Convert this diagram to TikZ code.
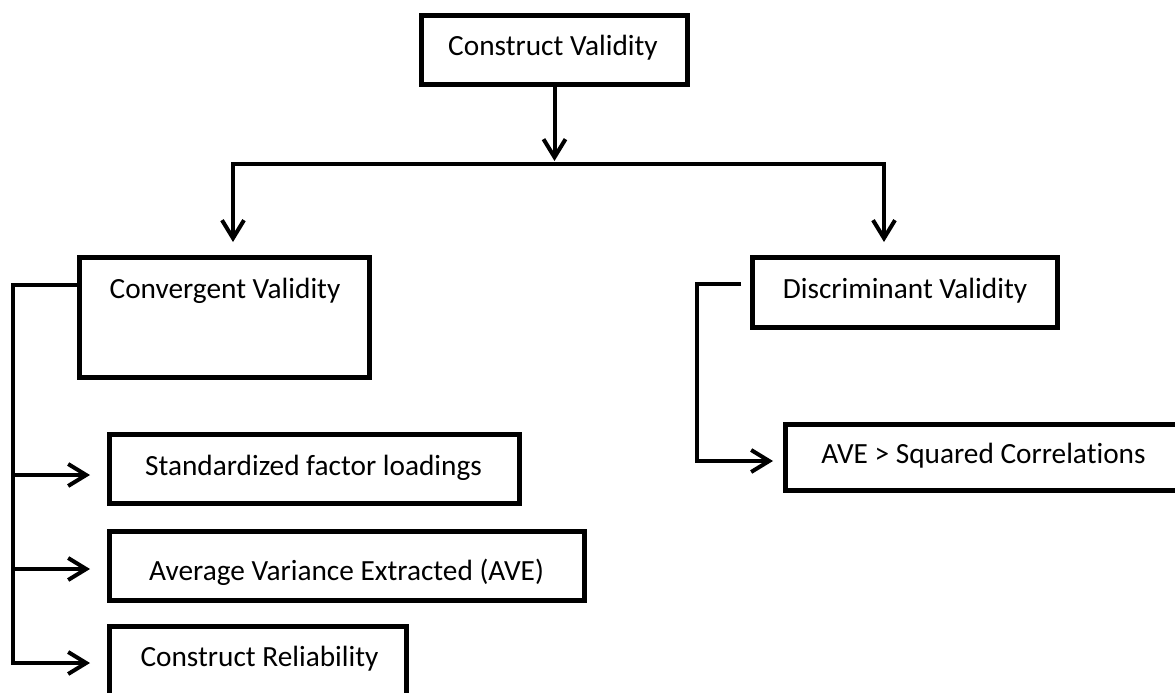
\documentclass[tikz,border=0pt]{standalone}
\usepackage{fontspec}
\setmainfont{Carlito}[Ligatures=NoCommon]
\usetikzlibrary{arrows.meta}
\begin{document}
\begin{tikzpicture}[x=1pt,y=-1pt]
\tikzset{
  box/.style={draw=black, line width=5pt, rectangle, inner sep=0pt, outer sep=0pt},
  lbl/.style={font=\fontsize{29.3}{35}\selectfont, inner sep=0pt, anchor=base},
  link/.style={line width=4pt, line join=miter, draw=black},
  barb/.tip={Straight Barb[length=18pt,width=22pt]},
  arr/.style={link, -barb},
}
\useasboundingbox (0,0) rectangle (1175,693);
\clip (0,0) rectangle (1175,693);

% boxes
\node[box, minimum width=266pt, minimum height=69pt] (ct)   at (554.5,50)   {};
\node[box, minimum width=290pt, minimum height=120pt] (conv) at (224.5,317.5) {};
\node[box, minimum width=305pt, minimum height=70pt] (disc) at (905,292.5)  {};
\node[box, minimum width=410pt, minimum height=69pt] (sfl)  at (314.5,469)  {};
\node[box, minimum width=475pt, minimum height=69pt] (ave)  at (347,566)    {};
\node[box, minimum width=297pt, minimum height=69pt] (cr)   at (258,661)    {};
\node[box, minimum width=396pt, minimum height=66pt] (asc)  at (983.5,457.5) {};

% labels
\node[lbl] (ct-t)   at (553,56)    {Construct Validity};
\node[lbl] (conv-t) at (225,298)   {Convergent Validity};
\node[lbl] (disc-t) at (905,298)   {Discriminant Validity};
\node[lbl] (sfl-t)  at (313.5,475) {Standardized factor loadings};
\node[lbl] (ave-t)  at (346.5,580) {Average Variance Extracted (AVE)};
\node[lbl] (cr-t)   at (259.5,666) {Construct Reliability};
\node[lbl] (asc-t)  at (983.5,463) {AVE > Squared Correlations};

% top split
\coordinate (busL) at (233,164);
\coordinate (busR) at (884,164);
\draw[arr, shorten >=3pt] (ct.south) -- (ct.south |- busL);
\draw[link, barb-barb, shorten <=15.5pt, shorten >=15.5pt]
  (busL |- conv.north) -- (busL) -- (busR) -- (busR |- disc.north);

% convergent validity measures
\coordinate (tTop) at (13,285);
\coordinate (tBot) at (13,663);
\coordinate (r1) at (13,475);
\coordinate (r2) at (13,569);
\draw[arr, shorten >=19.5pt] (conv.west |- tTop) -- (tTop) -- (tBot) -- (cr.west |- tBot);
\draw[arr, shorten >=19.5pt] (r1) -- (sfl.west |- r1);
\draw[arr, shorten >=19.5pt] (r2) -- (ave.west |- r2);

% discriminant validity criterion
\coordinate (dTop) at (697,284);
\coordinate (dBot) at (697,461);
\draw[arr, shorten <=11.5pt, shorten >=12.5pt]
  (disc.west |- dTop) -- (dTop) -- (dBot) -- (asc.west |- dBot);
\end{tikzpicture}
\end{document}
